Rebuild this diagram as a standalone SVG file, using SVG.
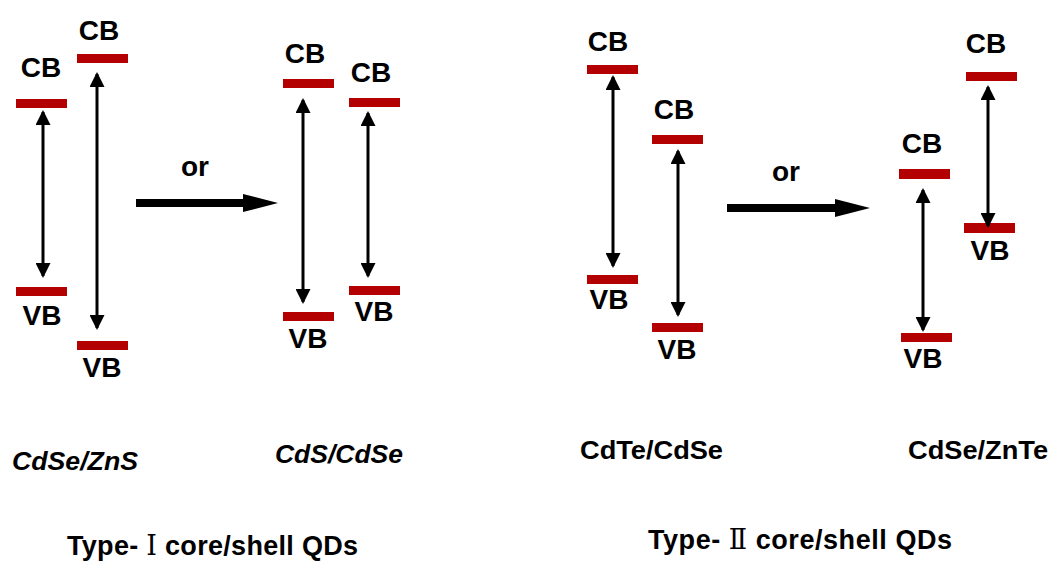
<svg xmlns="http://www.w3.org/2000/svg" width="1052" height="561" viewBox="0 0 1052 561">
<style>
.bar{fill:#b30000}
.lbl{font-family:"Liberation Sans",Arial,sans-serif;font-weight:bold;font-size:28px;fill:#000;text-anchor:middle}
.name{font-family:"Liberation Sans",Arial,sans-serif;font-weight:bold;font-size:26px;fill:#000}
.it{font-style:italic}
.title{font-family:"Liberation Sans",Arial,sans-serif;font-weight:bold;font-size:27px;fill:#000}
.num{font-family:"DejaVu Serif","Noto Sans CJK JP",serif;font-weight:normal}
.dbl{stroke:#000;stroke-width:3;fill:none;marker-start:url(#ah);marker-end:url(#ah)}
.big{fill:#000}
</style>
<defs>
<marker id="ah" markerUnits="userSpaceOnUse" viewBox="0 0 15 15" markerWidth="15" markerHeight="15" refX="13" refY="7.5" orient="auto-start-reverse">
<path d="M0,0 L15,7.5 L0,15 z" fill="#000"/>
</marker>
</defs>
<rect width="1052" height="561" fill="#fff"/>

<g id="cdse-zns">
<g id="cb1"><rect class="bar" x="16" y="99" width="51" height="9"/><text class="lbl" x="41" y="77">CB</text></g>
<g id="vb1"><rect class="bar" x="16" y="287" width="51" height="9"/><text class="lbl" x="42" y="325">VB</text></g>
<g id="cb2"><rect class="bar" x="77" y="54" width="51" height="9"/><text class="lbl" x="99" y="40">CB</text></g>
<g id="vb2"><rect class="bar" x="77" y="341" width="51" height="9"/><text class="lbl" x="102" y="377">VB</text></g>
<text class="name it" x="12" y="470" textLength="126" lengthAdjust="spacingAndGlyphs">CdSe/ZnS</text>
</g>

<g id="cds-cdse">
<g id="cb3"><rect class="bar" x="283" y="79" width="51" height="9"/><text class="lbl" x="305" y="63">CB</text></g>
<g id="vb3"><rect class="bar" x="283" y="312" width="51" height="9"/><text class="lbl" x="308" y="348">VB</text></g>
<g id="cb4"><rect class="bar" x="349" y="98" width="51" height="9"/><text class="lbl" x="371" y="82">CB</text></g>
<g id="vb4"><rect class="bar" x="349" y="286" width="51" height="9"/><text class="lbl" x="374" y="321">VB</text></g>
<text class="name it" x="275" y="463" textLength="128" lengthAdjust="spacingAndGlyphs">CdS/CdSe</text>
</g>

<g id="cdte-cdse">
<g id="cb5"><rect class="bar" x="587" y="65" width="51" height="9"/><text class="lbl" x="608" y="51">CB</text></g>
<g id="vb5"><rect class="bar" x="587" y="275" width="51" height="9"/><text class="lbl" x="609" y="309">VB</text></g>
<g id="cb6"><rect class="bar" x="652" y="135" width="51" height="9"/><text class="lbl" x="674" y="119">CB</text></g>
<g id="vb6"><rect class="bar" x="652" y="323" width="51" height="9"/><text class="lbl" x="677" y="359">VB</text></g>
<text class="name" x="580" y="459" textLength="143" lengthAdjust="spacingAndGlyphs">CdTe/CdSe</text>
</g>

<g id="cdse-znte">
<g id="cb7"><rect class="bar" x="899" y="169" width="51" height="10"/><text class="lbl" x="922" y="153">CB</text></g>
<g id="vb7"><rect class="bar" x="901" y="333" width="51" height="9"/><text class="lbl" x="923" y="368">VB</text></g>
<g id="cb8"><rect class="bar" x="966" y="72" width="51" height="9"/><text class="lbl" x="986" y="53">CB</text></g>
<g id="vb8"><rect class="bar" x="964" y="223" width="51" height="10"/><text class="lbl" x="990" y="260">VB</text></g>
<text class="name" x="908" y="459" textLength="140" lengthAdjust="spacingAndGlyphs">CdSe/ZnTe</text>
</g>

<g id="connectors">
<line class="dbl" x1="43" y1="112" x2="43" y2="276"/>
<line class="dbl" x1="97" y1="74" x2="97" y2="328"/>
<line class="dbl" x1="303" y1="100" x2="303" y2="302"/>
<line class="dbl" x1="368" y1="113" x2="368" y2="276"/>
<line class="dbl" x1="613" y1="77" x2="613" y2="266"/>
<line class="dbl" x1="678" y1="151" x2="678" y2="315"/>
<line class="dbl" x1="923" y1="190" x2="923" y2="330"/>
<line class="dbl" x1="988" y1="87" x2="988" y2="226"/>
<g id="big-arrow-1"><rect class="big" x="136" y="199" width="108" height="8"/><polygon class="big" points="243,194 278,203 243,212"/></g>
<g id="big-arrow-2"><rect class="big" x="727" y="204" width="109" height="8"/><polygon class="big" points="835,199 870,208 835,217"/></g>
</g>

<text class="lbl" x="195" y="176">or</text>
<text class="lbl" x="786" y="181">or</text>

<g id="type1"><text class="title" x="67" y="555" textLength="291" lengthAdjust="spacing">Type- <tspan class="num">Ⅰ</tspan> core/shell QDs</text></g>
<g id="type2"><text class="title" x="648" y="549" textLength="304" lengthAdjust="spacing">Type- <tspan class="num">Ⅱ</tspan> core/shell QDs</text></g>
</svg>
